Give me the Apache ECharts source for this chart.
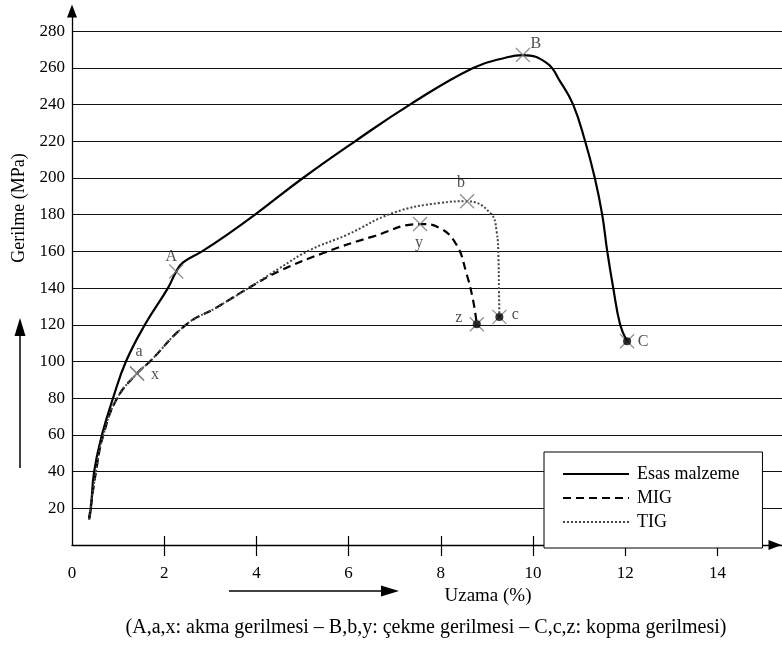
<!DOCTYPE html>
<html><head><meta charset="utf-8">
<script src="https://cdn.jsdelivr.net/npm/echarts@6/dist/echarts.min.js"></script>
<style>html,body{margin:0;padding:0;background:#fff}#c{width:782px;height:645px}</style>
</head><body><div id="c"></div>
<script>
// ---- data ----
const seriesNames = ['Esas malzeme', 'MIG', 'TIG'];
const esasX = [0.37,0.41,0.48,0.65,0.89,1.17,1.58,2.08,2.26,2.41,2.82,3.36,3.97,5.01,6.14,7.33,8.70,9.44,9.78,10.30,10.59,10.87,11.13,11.34,11.50,11.61,11.74,11.89,12.04];
const esasY = [14,20,40,60,80,100,120,140,149,154,160,169,180,200,220,240,260,265.8,267,262.6,252.5,240,220,200,180,160,140,120,111];
const migX = [0.37,0.52,0.68,0.98,1.41,1.69,2.47,3.14,3.86,4.51,5.44,6.54,7.55,7.98,8.34,8.56,8.70,8.78];
const migY = [14,40,60,80,93.5,100,120,129.5,140.5,149.4,159,168.2,174.9,172.7,163.6,147.6,133.3,120.3];
const tigX = [0.37,0.52,0.68,0.98,1.41,1.69,2.47,3.14,3.86,4.51,5.16,5.96,6.97,7.98,8.57,9.07,9.21,9.25,9.26,9.27];
const tigY = [14,40,60,80,93.5,100,120,129.5,140.5,151,160.7,169,181,186.4,187.3,181,170.9,156.5,140.5,124.3];
const pointNames = ['A','B','C','a','b','c','x','y','z'];
const pointX = [2.26, 9.78, 12.04, 1.41, 8.57, 9.27, 1.41, 7.55, 8.78];
const pointY = [149, 267, 111, 93.5, 187.3, 124.3, 93.5, 174.9, 120.3];
const fracturePoints = ['C','c','z'];
const xLabelValues = [0,2,4,6,8,10,12,14];
const xTickValues = [2,4,6,8,10,12,14];
const yLabelValues = [20,40,60,80,100,120,140,160,180,200,220,240,260,280];
const xAxisTitle = 'Uzama (%)';
const yAxisTitle = 'Gerilme (MPa)';
const caption = '(A,a,x: akma gerilmesi \u2013 B,b,y: \u00e7ekme gerilmesi \u2013 C,c,z: kopma gerilmesi)';

// ---- chart ----
const FONT = 'Liberation Serif';
const zip = (xs, ys) => xs.map((x, i) => [x, ys[i]]);
const labelOffsets = {A:[-5,-15], B:[13,-11], C:[16,0], a:[2,-22], b:[-6,-18], c:[16,-2], x:[18,1], y:[-1,19], z:[-18,-6]};

const chart = echarts.init(document.getElementById('c'), null, {renderer: 'canvas'});
const baseX = {
  type: 'value', min: 0, max: 15.4, position: 'bottom',
  splitLine: {show: false}
};
chart.setOption({
  animation: false,
  backgroundColor: '#fff',
  textStyle: {fontFamily: FONT},
  grid: {left: 72, right: 0, top: 11, bottom: 100, containLabel: false},
  xAxis: [
    Object.assign({}, baseX, {
      name: xAxisTitle, nameLocation: 'middle', nameGap: 33,
      nameTextStyle: {fontFamily: FONT, fontSize: 19, color: '#000', padding: [0, 0, 0, 122]},
      axisLine: {onZero: false, symbol: ['none', 'triangle'], symbolSize: [10, 13], symbolOffset: [0, -7],
        lineStyle: {color: '#000', width: 1.3}},
      axisTick: {show: true, customValues: xTickValues, length: 11, lineStyle: {color: '#000', width: 1.2}},
      axisLabel: {customValues: xLabelValues, margin: 20, fontFamily: FONT, fontSize: 17, color: '#000'}
    }),
    Object.assign({}, baseX, {
      axisLine: {show: false, onZero: false},
      axisTick: {show: true, inside: true, customValues: xTickValues, length: 9, lineStyle: {color: '#000', width: 1.2}},
      axisLabel: {show: false}
    })
  ],
  yAxis: {
    type: 'value', min: 0, max: 291,
    name: yAxisTitle, nameLocation: 'middle', nameRotate: 90, nameGap: 44,
    nameTextStyle: {fontFamily: FONT, fontSize: 18, color: '#000', padding: [0, 0, 0, 140]},
    axisLine: {show: true, onZero: false, symbol: ['none', 'triangle'], symbolSize: [10, 13],
      lineStyle: {color: '#000', width: 1.3}},
    axisTick: {show: false, customValues: yLabelValues},
    axisLabel: {customValues: yLabelValues, margin: 7, fontFamily: FONT, fontSize: 17, color: '#000'},
    splitLine: {show: true, lineStyle: {color: '#111', width: 1}}
  },
  legend: {
    data: seriesNames, orient: 'vertical', left: 544, top: 452,
    backgroundColor: '#fff', borderColor: '#000', borderWidth: 1,
    padding: [13, 23, 17, 18], itemWidth: 66, itemHeight: 14, itemGap: 6,
    selectedMode: false,
    itemStyle: {opacity: 0},
    textStyle: {fontFamily: FONT, fontSize: 18, color: '#000', padding: [0, 0, 0, 3]}
  },
  series: [
    {name: seriesNames[0], type: 'line', data: zip(esasX, esasY), smooth: 0.45, symbol: 'none',
      lineStyle: {color: '#000', width: 2.2, type: 'solid'}, itemStyle: {color: '#000'}, z: 3},
    {name: seriesNames[1], type: 'line', data: zip(migX, migY), smooth: 0.45, symbol: 'none',
      lineStyle: {color: '#000', width: 2.2, type: [8, 5]}, itemStyle: {color: '#000'}, z: 3},
    {name: seriesNames[2], type: 'line', data: zip(tigX, tigY), smooth: 0.45, symbol: 'none',
      lineStyle: {color: '#444', width: 2, type: [2, 2]}, itemStyle: {color: '#444'}, z: 3},
    {name: 'points', type: 'scatter', symbol: 'path://M0,0L10,10M10,0L0,10', symbolSize: 14,
      itemStyle: {color: 'none', borderColor: '#777', borderWidth: 1.3}, z: 4,
      data: pointNames.map((n, i) => ({
        name: n, value: [pointX[i], pointY[i]],
        label: {show: true, position: 'inside', offset: labelOffsets[n], formatter: n,
          fontFamily: FONT, fontSize: 16, color: '#222'}
      }))},
    {name: 'break', type: 'scatter', symbol: 'circle', symbolSize: 8, z: 5,
      itemStyle: {color: '#000'},
      data: pointNames.map((n, i) => fracturePoints.includes(n) ? [pointX[i], pointY[i]] : null).filter(Boolean)}
  ],
  graphic: [
    {type: 'line', shape: {x1: 20, y1: 468, x2: 20, y2: 334}, style: {stroke: '#000', lineWidth: 1.5}},
    {type: 'polygon', shape: {points: [[20, 318], [14.5, 336], [25.5, 336]]}, style: {fill: '#000'}},
    {type: 'line', shape: {x1: 229, y1: 591, x2: 384, y2: 591}, style: {stroke: '#000', lineWidth: 1.5}},
    {type: 'polygon', shape: {points: [[399, 591], [381, 585.5], [381, 596.5]]}, style: {fill: '#000'}},
    {type: 'text', x: 426, y: 628, style: {text: caption, fontFamily: FONT, fontSize: 20, fill: '#000',
      textAlign: 'center', textVerticalAlign: 'middle'}}
  ]
});
</script></body></html>
